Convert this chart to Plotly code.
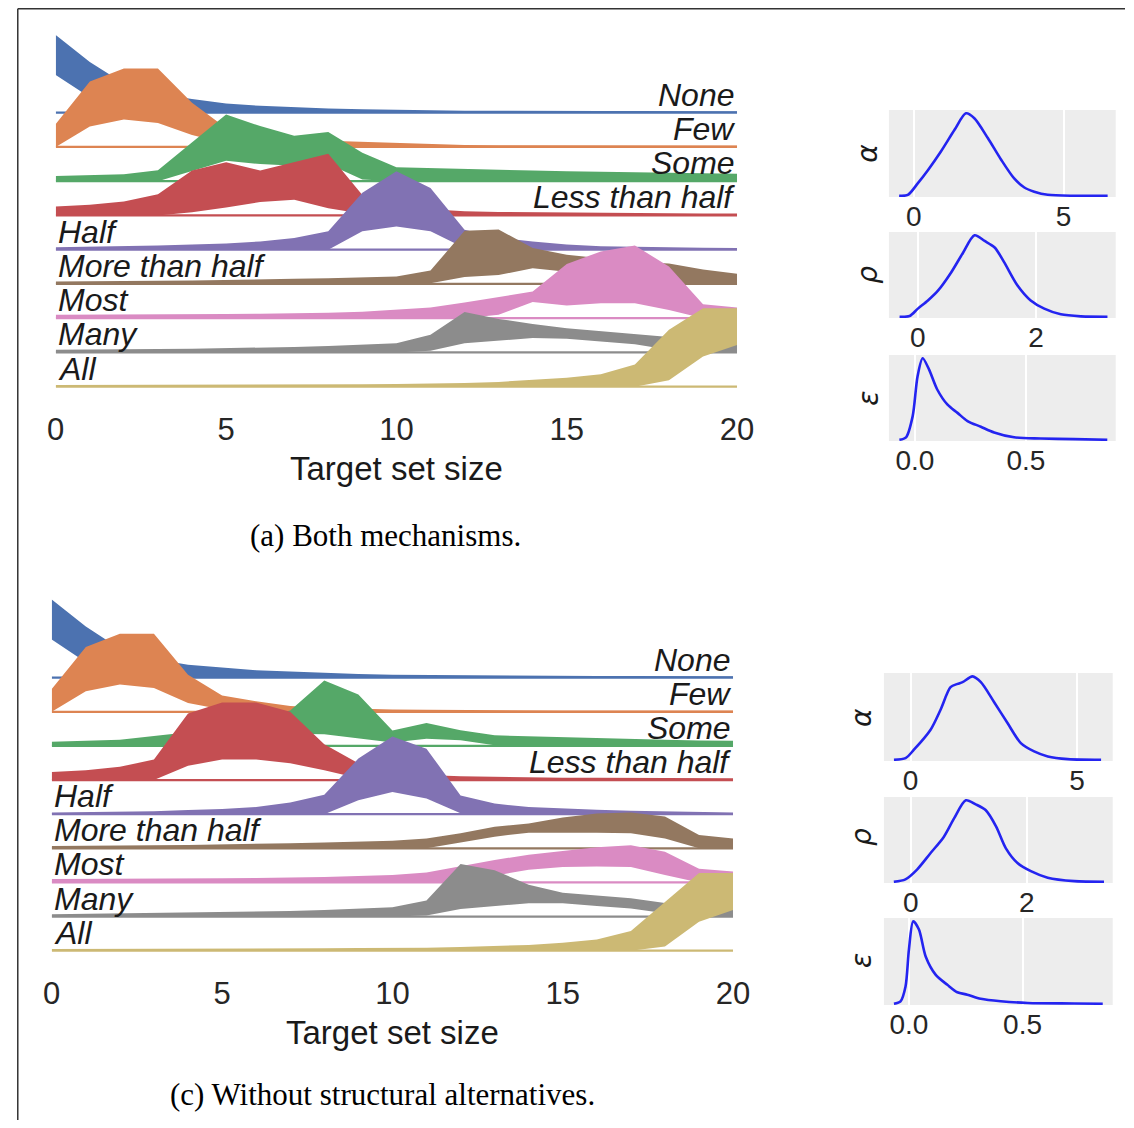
import plotly.graph_objects as go

# Page geometry. The page body has an 8px default margin, and the photographed page
# was observed to map page-x to picture-x as  x_pic = SX * x_page + CX  (y is 1:1).
# Reference pixel positions are converted through that mapping.
W, H = 1134, 1128
OFF = 8
FW, FH = 1134, H - 2 * OFF
SX, CX = 0.978, 7.4

# ---------------- data ----------------
target_sizes = list(range(21))
quantifiers = ["None", "Few", "Some", "Less than half", "Half",
               "More than half", "Most", "Many", "All"]
colors = ["#4C72B0", "#DD8452", "#55A868", "#C44E52", "#8172B3",
          "#937860", "#DA8BC3", "#8C8C8C", "#CCB974"]
label_side = ["right", "right", "right", "right", "left", "left", "left", "left", "left"]
x_ticks = [0, 5, 10, 15, 20]

# Panel (a): Both mechanisms -- upper / lower band edges (in row heights)
a_none_hi = [2.27, 1.48, 0.85, 0.55, 0.40, 0.27, 0.20, 0.15, 0.12, 0.10, 0.08, 0.07, 0.06, 0.06, 0.05, 0.05, 0.05, 0.05, 0.04, 0.04, 0.04]
a_none_lo = [1.10, 0.45, 0.15, 0.05, 0.02, 0.01, 0, 0, 0, 0, 0, 0, 0, 0, 0, 0, 0, 0, 0, 0, 0]
a_few_hi = [0.67, 1.91, 2.29, 2.29, 1.29, 0.55, 0.33, 0.22, 0.18, 0.15, 0.10, 0.08, 0.06, 0.05, 0.05, 0.04, 0.04, 0.04, 0.04, 0.04, 0.04]
a_few_lo = [0, 0.60, 0.80, 0.70, 0.35, 0.10, 0.03, 0, 0, 0, 0, 0, 0, 0, 0, 0, 0, 0, 0, 0, 0]
a_some_hi = [0.15, 0.17, 0.20, 0.32, 1.14, 1.95, 1.61, 1.33, 1.44, 0.83, 0.41, 0.38, 0.35, 0.33, 0.31, 0.29, 0.27, 0.25, 0.24, 0.23, 0.22]
a_some_lo = [0, 0, 0, 0, 0.30, 0.60, 0.50, 0.45, 0.50, 0.05, 0, 0, 0, 0, 0, 0, 0, 0, 0, 0, 0]
a_less_hi = [0.26, 0.31, 0.41, 0.62, 1.31, 1.55, 1.31, 1.56, 1.80, 0.60, 0.30, 0.18, 0.12, 0.10, 0.09, 0.08, 0.08, 0.07, 0.07, 0.06, 0.06]
a_less_lo = [0, 0, 0, 0, 0.09, 0.23, 0.39, 0.46, 0.21, 0.05, 0, 0, 0, 0, 0, 0, 0, 0, 0, 0, 0]
a_half_hi = [0.07, 0.08, 0.10, 0.12, 0.15, 0.18, 0.24, 0.34, 0.54, 1.66, 2.29, 1.80, 0.58, 0.35, 0.24, 0.15, 0.10, 0.08, 0.07, 0.06, 0.05]
a_half_lo = [0, 0, 0, 0, 0, 0, 0, 0, 0, 0.54, 0.68, 0.54, 0.05, 0, 0, 0, 0, 0, 0, 0, 0]
a_more_hi = [0.07, 0.07, 0.08, 0.09, 0.10, 0.11, 0.13, 0.15, 0.17, 0.19, 0.22, 0.39, 1.55, 1.59, 1.05, 0.85, 0.75, 0.65, 0.60, 0.42, 0.30]
a_more_lo = [0, 0, 0, 0, 0, 0, 0, 0, 0, 0, 0, 0.02, 0.20, 0.26, 0.46, 0.35, 0.25, 0.15, 0.05, 0, 0]
a_most_hi = [0.10, 0.10, 0.11, 0.11, 0.12, 0.12, 0.13, 0.14, 0.16, 0.19, 0.24, 0.31, 0.46, 0.63, 0.78, 1.58, 1.95, 2.12, 1.51, 0.41, 0.31]
a_most_lo = [0, 0, 0, 0, 0, 0, 0, 0, 0, 0, 0, 0, 0, 0.10, 0.47, 0.37, 0.44, 0.44, 0.24, 0, 0]
a_many_hi = [0.08, 0.08, 0.09, 0.10, 0.11, 0.12, 0.14, 0.16, 0.19, 0.23, 0.27, 0.52, 1.18, 0.98, 0.83, 0.71, 0.63, 0.55, 0.45, 0.35, 0.24]
a_many_lo = [0, 0, 0, 0, 0, 0, 0, 0, 0, 0, 0, 0.05, 0.27, 0.34, 0.42, 0.40, 0.32, 0.24, 0.08, 0, 0]
a_all_hi = [0.05, 0.05, 0.05, 0.05, 0.06, 0.06, 0.06, 0.07, 0.07, 0.07, 0.08, 0.09, 0.11, 0.14, 0.19, 0.26, 0.36, 0.65, 1.66, 2.29, 2.29]
a_all_lo = [0, 0, 0, 0, 0, 0, 0, 0, 0, 0, 0, 0, 0, 0, 0, 0, 0, 0, 0.19, 0.88, 1.22]

# Panel (c): Without structural alternatives
c_none_hi = [2.29, 1.50, 0.85, 0.55, 0.38, 0.29, 0.22, 0.18, 0.14, 0.11, 0.09, 0.08, 0.07, 0.06, 0.06, 0.05, 0.05, 0.05, 0.05, 0.04, 0.04]
c_none_lo = [1.12, 0.45, 0.15, 0.05, 0.02, 0.01, 0, 0, 0, 0, 0, 0, 0, 0, 0, 0, 0, 0, 0, 0, 0]
c_few_hi = [0.67, 1.90, 2.29, 2.29, 1.09, 0.48, 0.31, 0.17, 0.12, 0.09, 0.07, 0.06, 0.05, 0.05, 0.04, 0.04, 0.04, 0.04, 0.04, 0.04, 0.04]
c_few_lo = [0, 0.60, 0.80, 0.70, 0.26, 0.07, 0, 0, 0, 0, 0, 0, 0, 0, 0, 0, 0, 0, 0, 0, 0]
c_some_hi = [0.12, 0.15, 0.18, 0.29, 0.40, 0.55, 0.75, 1.04, 1.92, 1.51, 0.45, 0.67, 0.46, 0.31, 0.28, 0.25, 0.22, 0.20, 0.18, 0.16, 0.15]
c_some_lo = [0, 0, 0, 0, 0.10, 0.20, 0.30, 0.36, 0.34, 0.23, 0.10, 0.21, 0.17, 0.02, 0, 0, 0, 0, 0, 0, 0]
c_less_hi = [0.24, 0.29, 0.39, 0.60, 1.95, 2.27, 2.27, 2.00, 1.05, 0.49, 0.25, 0.15, 0.11, 0.09, 0.08, 0.07, 0.07, 0.06, 0.06, 0.05, 0.05]
c_less_lo = [0, 0, 0, 0, 0.42, 0.60, 0.60, 0.49, 0.29, 0.05, 0, 0, 0, 0, 0, 0, 0, 0, 0, 0, 0]
c_half_hi = [0.05, 0.06, 0.07, 0.09, 0.12, 0.15, 0.21, 0.34, 0.57, 1.63, 2.28, 1.92, 0.55, 0.31, 0.21, 0.16, 0.13, 0.10, 0.08, 0.06, 0.05]
c_half_lo = [0, 0, 0, 0, 0, 0, 0, 0, 0, 0.41, 0.65, 0.46, 0.03, 0, 0, 0, 0, 0, 0, 0, 0]
c_more_hi = [0.07, 0.07, 0.08, 0.09, 0.10, 0.11, 0.13, 0.15, 0.17, 0.19, 0.22, 0.29, 0.44, 0.63, 0.73, 0.90, 1.02, 1.05, 0.93, 0.39, 0.29]
c_more_lo = [0, 0, 0, 0, 0, 0, 0, 0, 0, 0, 0, 0, 0.18, 0.34, 0.46, 0.46, 0.46, 0.44, 0.29, 0, 0]
c_most_hi = [0.10, 0.10, 0.11, 0.11, 0.12, 0.12, 0.13, 0.14, 0.16, 0.19, 0.22, 0.29, 0.47, 0.66, 0.81, 0.93, 1.03, 1.09, 0.90, 0.40, 0.32]
c_most_lo = [0, 0, 0, 0, 0, 0, 0, 0, 0, 0, 0, 0, 0, 0.20, 0.37, 0.45, 0.47, 0.45, 0.22, 0, 0]
c_many_hi = [0.07, 0.08, 0.09, 0.10, 0.11, 0.12, 0.14, 0.16, 0.19, 0.23, 0.27, 0.47, 1.54, 1.36, 0.93, 0.70, 0.63, 0.54, 0.40, 0.30, 0.20]
c_many_lo = [0, 0, 0, 0, 0, 0, 0, 0, 0, 0, 0, 0.03, 0.22, 0.31, 0.39, 0.39, 0.31, 0.24, 0.10, 0, 0]
c_all_hi = [0.05, 0.05, 0.05, 0.05, 0.06, 0.06, 0.06, 0.07, 0.07, 0.08, 0.08, 0.09, 0.11, 0.14, 0.17, 0.23, 0.33, 0.58, 1.43, 2.28, 2.28]
c_all_lo = [0, 0, 0, 0, 0, 0, 0, 0, 0, 0, 0, 0, 0, 0, 0, 0, 0, 0, 0.12, 0.85, 1.19]

# Posterior densities (relative height)
a_alpha_x = [-0.49, -0.2, 0.13, 0.47, 0.91, 1.36, 1.74, 2.02, 2.47, 2.91, 3.35, 3.69, 4.02, 4.47, 5.36, 6.47]
a_alpha_y = [0, 0.01, 0.15, 0.31, 0.54, 0.80, 1.0, 0.94, 0.70, 0.44, 0.21, 0.10, 0.05, 0.012, 0, 0]
a_rho_x = [-0.31, -0.14, 0.0, 0.17, 0.34, 0.56, 0.76, 0.96, 1.13, 1.30, 1.46, 1.69, 1.91, 2.14, 2.42, 2.76, 3.21]
a_rho_y = [0, 0.01, 0.1, 0.2, 0.32, 0.54, 0.78, 1.0, 0.93, 0.85, 0.67, 0.38, 0.2, 0.1, 0.03, 0.005, 0]
a_eps_x = [-0.07, -0.04, -0.01, 0.012, 0.035, 0.064, 0.10, 0.147, 0.192, 0.237, 0.297, 0.357, 0.447, 0.567, 0.717, 0.867]
a_eps_y = [0, 0.03, 0.29, 0.78, 1.0, 0.86, 0.62, 0.43, 0.33, 0.23, 0.16, 0.09, 0.03, 0.016, 0.008, 0]
c_alpha_x = [-0.5, -0.15, 0.1, 0.6, 0.9, 1.2, 1.41, 1.56, 1.86, 2.11, 2.51, 2.91, 3.31, 3.71, 4.12, 4.72, 5.72]
c_alpha_y = [0, 0.02, 0.12, 0.36, 0.6, 0.87, 0.91, 0.93, 1.0, 0.93, 0.69, 0.44, 0.2, 0.1, 0.04, 0.008, 0]
c_rho_x = [-0.29, -0.09, 0.11, 0.34, 0.57, 0.75, 0.95, 1.12, 1.29, 1.47, 1.64, 1.84, 2.07, 2.36, 2.82, 3.33]
c_rho_y = [0, 0.03, 0.15, 0.35, 0.55, 0.78, 1.0, 0.95, 0.88, 0.68, 0.41, 0.23, 0.13, 0.05, 0.008, 0]
c_eps_x = [-0.066, -0.037, -0.015, 0.0, 0.019, 0.044, 0.074, 0.118, 0.169, 0.213, 0.257, 0.316, 0.404, 0.522, 0.728, 0.853]
c_eps_y = [0, 0.03, 0.21, 0.66, 1.0, 0.9, 0.57, 0.35, 0.23, 0.14, 0.11, 0.06, 0.03, 0.01, 0.004, 0]

param_names = ["α", "ρ", "ε"]
alpha_ticks = [0, 5]
rho_ticks = [0, 2]
eps_ticks = [0, 0.5]
eps_ticktext = ["0.0", "0.5"]

caption_a = "(a) Both mechanisms."
caption_c = "(c) Without structural alternatives."
xlabel = "Target set size"

panel_a_bands = [(a_none_hi, a_none_lo), (a_few_hi, a_few_lo), (a_some_hi, a_some_lo),
                 (a_less_hi, a_less_lo), (a_half_hi, a_half_lo), (a_more_hi, a_more_lo),
                 (a_most_hi, a_most_lo), (a_many_hi, a_many_lo), (a_all_hi, a_all_lo)]
panel_c_bands = [(c_none_hi, c_none_lo), (c_few_hi, c_few_lo), (c_some_hi, c_some_lo),
                 (c_less_hi, c_less_lo), (c_half_hi, c_half_lo), (c_more_hi, c_more_lo),
                 (c_most_hi, c_most_lo), (c_many_hi, c_many_lo), (c_all_hi, c_all_lo)]

# ---------------- layout helpers (reference picture pixels -> paper) ----------------
def fx(px):
    page = (px - CX) / SX
    return (page - OFF) / FW

def fy(py):
    return 1 - (py - OFF) / FH

SANS = "Liberation Sans, Arial, sans-serif"
SERIF = "Liberation Serif, Times New Roman, serif"
TXT = "#1a1a1a"

fig = go.Figure()
layout = dict(width=FW, height=FH, autosize=False, margin=dict(l=0, r=0, t=0, b=0),
              paper_bgcolor="white", plot_bgcolor="rgba(0,0,0,0)",
              showlegend=False)
annotations = []
shapes = []

ridge_panels = [
    # bands, axis index, x px domain, y px domain (top, bottom), all-baseline px, row px, title py
    (panel_a_bands, 1, (54, 736), (20, 408), 386.7, 34.25, 468),
    (panel_c_bands, 2, (50, 732), (585, 972), 950.7, 34.125, 1032),
]

for bands, ax, (x0, x1), (ytop, ybot), base_px, row_px, title_py in ridge_panels:
    xa = "x" if ax == 1 else f"x{ax}"
    ya = "y" if ax == 1 else f"y{ax}"
    n = len(quantifiers)
    for i, (q, col, (hi, lo)) in enumerate(zip(quantifiers, colors, bands)):
        off = n - 1 - i
        xs = target_sizes + target_sizes[::-1]
        ys = [off + h for h in hi] + [off + l for l in lo[::-1]]
        fig.add_trace(go.Scatter(x=xs, y=ys, fill="toself", fillcolor=col,
                                 mode="lines", line=dict(width=0, color=col),
                                 hoverinfo="skip", xaxis=xa, yaxis=ya))
        fig.add_trace(go.Scatter(x=[target_sizes[0], target_sizes[-1]], y=[off, off],
                                 mode="lines", line=dict(width=2.2, color=col),
                                 hoverinfo="skip", xaxis=xa, yaxis=ya))
        side = label_side[i]
        annotations.append(dict(
            x=target_sizes[-1] if side == "right" else target_sizes[0], y=off,
            xref=xa, yref=ya, text=f"<i>{q}</i>", showarrow=False,
            xanchor=side, yanchor="bottom", yshift=-2,
            font=dict(family=SANS, size=32, color=TXT)))
    rng_lo = (base_px - ybot) / row_px
    rng_hi = (base_px - ytop) / row_px
    kx = "xaxis" if ax == 1 else f"xaxis{ax}"
    ky = "yaxis" if ax == 1 else f"yaxis{ax}"
    layout[kx] = dict(domain=[fx(x0), fx(x1)], range=[0, 20], anchor=ya,
                      showgrid=False, zeroline=False, showline=False, ticks="",
                      tickvals=x_ticks, ticktext=[str(t) for t in x_ticks],
                      tickfont=dict(family=SANS, size=31, color="#262626"))
    layout[ky] = dict(domain=[fy(ybot), fy(ytop)], range=[rng_lo, rng_hi], anchor=xa,
                      visible=False)
    annotations.append(dict(x=fx((x0 + x1) / 2), y=fy(title_py), xref="paper", yref="paper",
                            text=xlabel, showarrow=False, xanchor="center", yanchor="middle",
                            font=dict(family=SANS, size=33, color=TXT)))

# density panels
dens_panels = [
    (a_alpha_x, a_alpha_y, alpha_ticks, None, [-0.83, 6.74], (888, 1115), (110, 197), (866.7, 153), 0),
    (a_rho_x, a_rho_y, rho_ticks, None, [-0.49, 3.35], (888, 1115), (232, 318), (866.7, 275), 1),
    (a_eps_x, a_eps_y, eps_ticks, eps_ticktext, [-0.117, 0.905], (888, 1115), (355, 441), (866.7, 398), 2),
    (c_alpha_x, c_alpha_y, alpha_ticks, None, [-0.8, 6.07], (883, 1112), (673, 761), (860, 717), 0),
    (c_rho_x, c_rho_y, rho_ticks, None, [-0.46, 3.48], (883, 1112), (797, 883), (860, 837), 1),
    (c_eps_x, c_eps_y, eps_ticks, eps_ticktext, [-0.11, 0.897], (883, 1112), (918, 1005), (860, 960), 2),
]

for k, (dx, dy, tv, tt, xr, (x0, x1), (ytop, ybot), (lx, ly), pidx) in enumerate(dens_panels):
    ax = 3 + k
    xa, ya = f"x{ax}", f"y{ax}"
    fig.add_trace(go.Scatter(x=dx, y=dy, mode="lines",
                             line=dict(color="#2424F0", width=2.6, shape="spline", smoothing=0.8),
                             hoverinfo="skip", xaxis=xa, yaxis=ya))
    layout[f"xaxis{ax}"] = dict(domain=[fx(x0), fx(x1)], range=xr, anchor=ya,
                                showgrid=True, gridcolor="white", gridwidth=1.5,
                                zeroline=False, showline=False, ticks="",
                                tickvals=tv, ticktext=tt if tt else [str(t) for t in tv],
                                tickfont=dict(family=SANS, size=28, color="#262626"))
    layout[f"yaxis{ax}"] = dict(domain=[fy(ybot), fy(ytop)], range=[-0.015, 1.04], anchor=xa,
                                showgrid=False, zeroline=False, showticklabels=False, ticks="")
    shapes.append(dict(type="rect", xref=f"{xa} domain", yref=f"{ya} domain",
                       x0=0, x1=1, y0=0, y1=1, fillcolor="#EDEDED", line=dict(width=0),
                       layer="below"))
    annotations.append(dict(x=fx(lx), y=fy(ly), xref="paper", yref="paper",
                            text=f"<i>{param_names[pidx]}</i>", showarrow=False,
                            textangle=-90, xanchor="center", yanchor="middle",
                            font=dict(family="DejaVu Sans, sans-serif", size=28, color=TXT)))

# captions
annotations.append(dict(x=fx(384), y=fy(535), xref="paper", yref="paper", text=caption_a,
                        showarrow=False, xanchor="center", yanchor="middle",
                        font=dict(family=SERIF, size=31, color="black")))
annotations.append(dict(x=fx(381), y=fy(1094), xref="paper", yref="paper", text=caption_c,
                        showarrow=False, xanchor="center", yanchor="middle",
                        font=dict(family=SERIF, size=31, color="black")))

# page frame (top and left edges)
frame_x = max(fx(8), 0.0007)
shapes.append(dict(type="line", xref="paper", yref="paper", x0=frame_x, x1=1, y0=0.9993, y1=0.9993,
                   line=dict(color="#333333", width=1.5)))
shapes.append(dict(type="line", xref="paper", yref="paper", x0=frame_x, x1=frame_x, y0=0.9993, y1=0,
                   line=dict(color="#333333", width=1.5)))

layout["annotations"] = annotations
layout["shapes"] = shapes
fig.update_layout(**layout)
fig.write_html("out.html")
